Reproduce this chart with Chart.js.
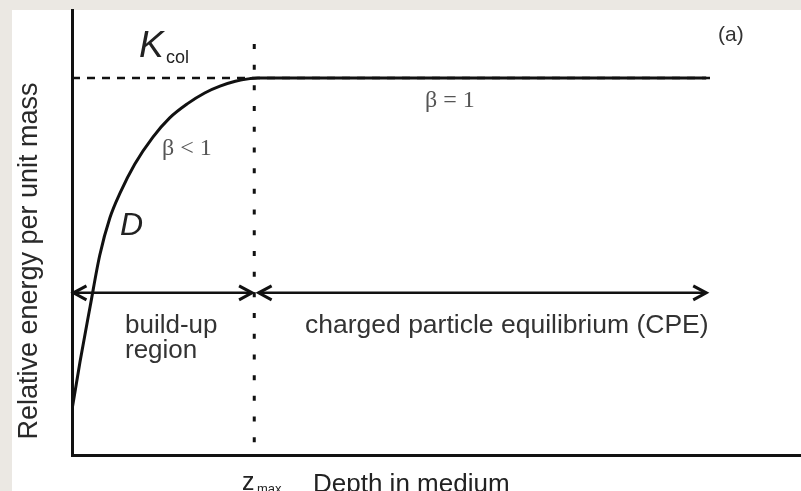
<!DOCTYPE html>
<html>
<head>
<meta charset="utf-8">
<script src="https://cdn.jsdelivr.net/npm/chart.js@4.4.1/dist/chart.umd.min.js"></script>
<style>
  html, body { margin: 0; padding: 0; background: #ebe8e3; }
  #wrap { position: relative; width: 801px; height: 491px; }
</style>
</head>
<body>
<div id="wrap"><canvas id="chart" width="801" height="491"></canvas></div>
<script>
// absorbed dose D against depth, relative to the collision kerma K_col
const depth = [0, 0.11, 0.25, 0.38, 0.52, 0.66, 0.86, 1.11, 1.34, 1.58, 1.82, 2.03, 2.24, 2.44, 2.55, 8.7];
const dose = [0.12, 0.247, 0.395, 0.529, 0.629, 0.695, 0.771, 0.843, 0.894, 0.931, 0.96, 0.978, 0.991, 0.998, 1.0, 1.0];

// K_col level (dashed) and the depth of maximum dose (dotted)
const kcolLevel = 1.0;
const kcolSpan = [0, 8.77];
const zMax = 2.5;
const zMaxSpan = [1.09, 0];

// region arrows
const arrowLevel = 0.43;
const buildUpSpan = [0.02, 2.47];
const cpeSpan = [2.56, 8.7];

const INK = '#111';
const SANS = "'Liberation Sans', Arial, sans-serif";
const SERIF = "'Liberation Serif', 'Times New Roman', serif";

function hline(level, span) {
  return span.map(x => ({ x: x, y: level }));
}

// grey margin round a white sheet
const paper = {
  id: 'paper',
  beforeDraw(chart) {
    const ctx = chart.ctx;
    ctx.save();
    ctx.fillStyle = '#ebe8e3';
    ctx.fillRect(0, 0, chart.width, chart.height);
    ctx.fillStyle = '#ffffff';
    ctx.fillRect(12, 10, chart.width - 12, chart.height - 10);
    ctx.restore();
  }
};

function head(ctx, x, y, dir) {
  ctx.beginPath();
  ctx.moveTo(x - dir * 13, y - 7);
  ctx.lineTo(x, y);
  ctx.lineTo(x - dir * 13, y + 7);
  ctx.stroke();
}

// open arrow heads at both ends of datasets flagged with arrows: true
const arrowHeads = {
  id: 'arrowHeads',
  afterDatasetsDraw(chart) {
    const ctx = chart.ctx;
    chart.data.datasets.forEach((ds, i) => {
      if (!ds.arrows) return;
      const pts = chart.getDatasetMeta(i).data;
      const a = pts[0], b = pts[pts.length - 1];
      ctx.save();
      ctx.strokeStyle = ds.borderColor;
      ctx.lineWidth = 3;
      ctx.lineJoin = 'miter';
      head(ctx, a.x, a.y, -1);
      head(ctx, b.x, b.y, 1);
      ctx.restore();
    });
  }
};

function text(ctx, str, x, y, font, color) {
  ctx.font = font;
  ctx.fillStyle = color;
  ctx.fillText(str, x, y);
}

const labels = {
  id: 'labels',
  afterDraw(chart) {
    const ctx = chart.ctx;
    ctx.save();
    ctx.textAlign = 'left';
    ctx.textBaseline = 'alphabetic';

    text(ctx, 'K', 139, 57, 'italic 37px ' + SANS, '#222');
    text(ctx, 'col', 166, 63, '18px ' + SANS, '#222');
    text(ctx, '(a)', 718, 41, '21px ' + SANS, '#333');
    text(ctx, 'β = 1', 425, 107, '24px ' + SERIF, '#555');
    text(ctx, 'β < 1', 162, 155, '24px ' + SERIF, '#555');
    text(ctx, 'D', 120, 235, 'italic 32px ' + SANS, '#222');
    text(ctx, 'build-up', 125, 333, '26px ' + SANS, '#333');
    text(ctx, 'region', 125, 358, '26px ' + SANS, '#333');
    text(ctx, 'charged particle equilibrium (CPE)', 305, 333, '26.5px ' + SANS, '#333');
    text(ctx, 'z', 242, 490, '25px ' + SANS, '#222');
    text(ctx, 'max', 257, 493, '13px ' + SANS, '#222');
    text(ctx, 'Depth in medium', 313, 492, '26px ' + SANS, '#222');

    ctx.translate(37, 261);
    ctx.rotate(-Math.PI / 2);
    ctx.textAlign = 'center';
    text(ctx, 'Relative energy per unit mass', 0, 0, '27px ' + SANS, '#2a2a2a');
    ctx.restore();
  }
};

new Chart(document.getElementById('chart'), {
  type: 'line',
  data: {
    datasets: [
      {
        data: depth.map((x, i) => ({ x: x, y: dose[i] })),
        borderColor: INK,
        borderWidth: 3,
        cubicInterpolationMode: 'monotone'
      },
      {
        data: hline(kcolLevel, kcolSpan),
        borderColor: INK,
        borderWidth: 2.5,
        borderDash: [8, 7]
      },
      {
        data: zMaxSpan.map(y => ({ x: zMax, y: y })),
        borderColor: INK,
        borderWidth: 3,
        borderDash: [5, 15.7]
      },
      {
        data: hline(arrowLevel, buildUpSpan),
        borderColor: INK,
        borderWidth: 2.5,
        arrows: true
      },
      {
        data: hline(arrowLevel, cpeSpan),
        borderColor: INK,
        borderWidth: 2.5,
        arrows: true
      }
    ]
  },
  options: {
    responsive: false,
    devicePixelRatio: 1,
    animation: false,
    layout: { padding: { left: 72, top: 10, right: 0, bottom: 36 } },
    elements: { point: { radius: 0 }, line: { borderCapStyle: 'butt' } },
    plugins: { legend: { display: false }, tooltip: { enabled: false } },
    scales: {
      x: {
        type: 'linear',
        min: 0,
        max: 10,
        ticks: { display: false },
        grid: { display: false, drawTicks: false },
        border: { display: true, color: INK, width: 3 }
      },
      y: {
        type: 'linear',
        min: 0,
        max: 1.18,
        ticks: { display: false },
        grid: { display: false, drawTicks: false },
        border: { display: true, color: INK, width: 3 }
      }
    }
  },
  plugins: [paper, arrowHeads, labels]
});
</script>
</body>
</html>
